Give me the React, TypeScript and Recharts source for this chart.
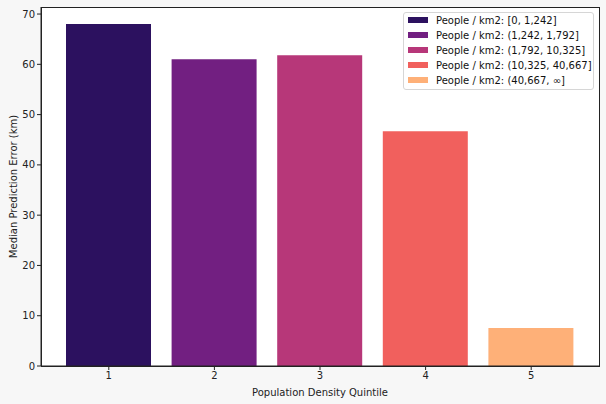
import { BarChart, Bar, Cell, XAxis, YAxis, CartesianGrid } from 'recharts';

const quintiles = ['1', '2', '3', '4', '5'];
const medianError = [68.0, 61.0, 61.8, 46.7, 7.55];
const densityRanges = ['[0, 1,242]', '(1,242, 1,792]', '(1,792, 10,325]', '(10,325, 40,667]', '(40,667, \u221e]'];
const COLORS = ['#2c115f', '#721f81', '#b73779', '#f1605d', '#feb078'];
const yTicks = [0, 10, 20, 30, 40, 50, 60, 70];

const FONT = '"DejaVu Sans", sans-serif';

const chartData = quintiles.map((q, i) => ({ quintile: q, value: medianError[i] }));

function DensityLegend() {
  return (
    <div
      style={{
        position: 'absolute',
        left: 403,
        top: 12,
        width: 191,
        padding: '0 0 1.5px 0',
        background: '#fff',
        border: '1px solid #d6d6d6',
        borderRadius: 3,
        fontFamily: FONT,
        fontSize: 10,
        color: '#111',
        boxSizing: 'border-box',
      }}
    >
      {densityRanges.map((r, i) => (
        <div key={r} style={{ display: 'flex', alignItems: 'center', height: 14.9, whiteSpace: 'nowrap' }}>
          <span style={{ display: 'inline-block', width: 20, height: 6, background: COLORS[i], marginLeft: 4, marginRight: 8 }} />
          <span>People / km2: {r}</span>
        </div>
      ))}
    </div>
  );
}

export default function App() {
  return (
    <div style={{ position: 'absolute', left: 0, top: 0, width: 606, height: 404, background: '#f7f7f7' }}>
      <BarChart width={606} height={404} data={chartData} margin={{ top: 7, right: 7, left: 0, bottom: 0 }}>
        <CartesianGrid horizontal={false} vertical={false} fill="#ffffff" />
        <XAxis
          dataKey="quintile"
          padding={{ left: 15, right: 15 }}
          height={38}
          tickSize={4}
          stroke="#222"
          tick={{ fill: '#222', fontSize: 10, fontFamily: FONT }}
          label={{ value: 'Population Density Quintile', position: 'insideBottom', offset: 8, fill: '#222', fontSize: 10, fontFamily: FONT }}
        />
        <YAxis
          domain={[0, 71.4]}
          ticks={yTicks}
          width={41}
          tickSize={4}
          stroke="#222"
          tick={{ fill: '#222', fontSize: 10, fontFamily: FONT }}
          label={{ value: 'Median Prediction Error (km)', angle: -90, position: 'insideLeft', offset: 13, style: { textAnchor: 'middle' }, fill: '#222', fontSize: 10, fontFamily: FONT }}
        />
        <Bar dataKey="value" barSize={85} isAnimationActive={false}>
          {chartData.map((entry, index) => (
            <Cell key={`cell-${index}`} fill={COLORS[index % COLORS.length]} />
          ))}
        </Bar>
      </BarChart>
      {/* axes frame (matplotlib spines) */}
      <div
        style={{
          position: 'absolute',
          left: 40.5,
          top: 6.5,
          width: 559,
          height: 360,
          border: '1px solid #222',
          boxSizing: 'border-box',
          pointerEvents: 'none',
        }}
      />
      <DensityLegend />
    </div>
  );
}
